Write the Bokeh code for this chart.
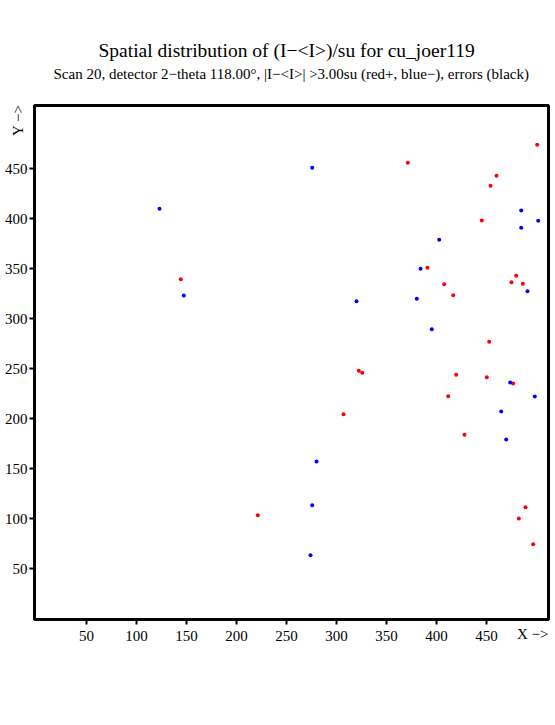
import math
from bokeh.plotting import figure
from bokeh.models import Range1d, Title, FixedTicker
from bokeh.embed import file_html
from bokeh.resources import INLINE

title_text = "Spatial distribution of (I\u2212<I>)/su for cu_joer119"
subtitle_text = "Scan 20, detector 2\u2212theta 118.00\u00b0, |I\u2212<I>| >3.00su (red+, blue\u2212), errors (black)"
x_label = "X \u2212>"
y_label = "Y \u2212>"

x_ticks = [50, 100, 150, 200, 250, 300, 350, 400, 450]
y_ticks = [50, 100, 150, 200, 250, 300, 350, 400, 450]

red_x = [500.7, 371.3, 460.0, 454.0, 445.3, 391.0, 479.7, 475.0, 486.3, 407.7, 416.7, 144.3,
         322.3, 325.7, 307.0, 221.3, 452.7, 419.7, 450.3, 476.7, 411.7, 428.0, 489.0, 482.3, 496.7]
red_y = [473.7, 455.7, 442.7, 432.7, 398.0, 350.7, 342.7, 336.3, 334.7, 334.3, 323.3, 339.3,
         247.7, 245.7, 204.3, 103.3, 276.7, 243.7, 241.3, 235.0, 222.3, 183.7, 111.3, 100.0, 74.3]

blue_x = [484.7, 501.7, 484.7, 402.7, 384.0, 491.0, 380.3, 395.3, 275.7, 123.0, 147.3, 320.0,
          280.0, 275.7, 274.0, 473.7, 498.3, 464.7, 469.7]
blue_y = [408.0, 397.7, 390.7, 378.7, 349.7, 327.3, 319.7, 289.3, 450.7, 409.7, 323.0, 317.3,
          157.0, 113.3, 63.3, 236.0, 222.0, 207.0, 179.0]

FONT = "Liberation Serif"

p = figure(width=551, height=689, output_backend="svg", toolbar_location=None,
           x_range=Range1d(-2, 512), y_range=Range1d(-1, 513),
           min_border_left=34, min_border_right=3, min_border_top=105, min_border_bottom=70)
p.background_fill_color = "white"
p.border_fill_color = "white"
p.xgrid.visible = False
p.ygrid.visible = False
p.outline_line_color = "black"
p.outline_line_width = 3

for ax, ticks in ((p.xaxis[0], x_ticks), (p.yaxis[0], y_ticks)):
    ax.ticker = FixedTicker(ticks=ticks)
    ax.axis_line_color = None
    ax.major_tick_in = 0
    ax.major_tick_out = 5
    ax.major_tick_line_width = 2
    ax.major_tick_line_color = "black"
    ax.minor_tick_line_color = None
    ax.major_label_text_font = FONT
    ax.major_label_text_font_size = "15px"
    ax.major_label_text_color = "black"
p.xaxis.major_label_standoff = 6
p.yaxis.major_label_standoff = 2

p.scatter(red_x, red_y, size=4, color="#ff0000", line_width=0)
p.scatter(blue_x, blue_y, size=4, color="#0000ff", line_width=0)

p.add_layout(Title(text=subtitle_text, text_font=FONT, text_font_size="15px",
                   text_font_style="normal", align="left", offset=19, standoff=47,
                   text_color="black"), "above")
p.add_layout(Title(text=title_text, text_font=FONT, text_font_size="19.5px",
                   text_font_style="normal", align="left", offset=64, standoff=-41.5,
                   text_color="black"), "above")
p.add_layout(Title(text=x_label, text_font=FONT, text_font_size="15px",
                   text_font_style="normal", align="right", offset=0, standoff=-35,
                   vertical_align="top", text_color="black"), "below")
p.add_layout(Title(text=y_label, text_font=FONT, text_font_size="15px",
                   text_font_style="normal", align="right", offset=-1, standoff=-49,
                   text_color="black"), "left")

open("out.html", "w").write(file_html(p, INLINE))
